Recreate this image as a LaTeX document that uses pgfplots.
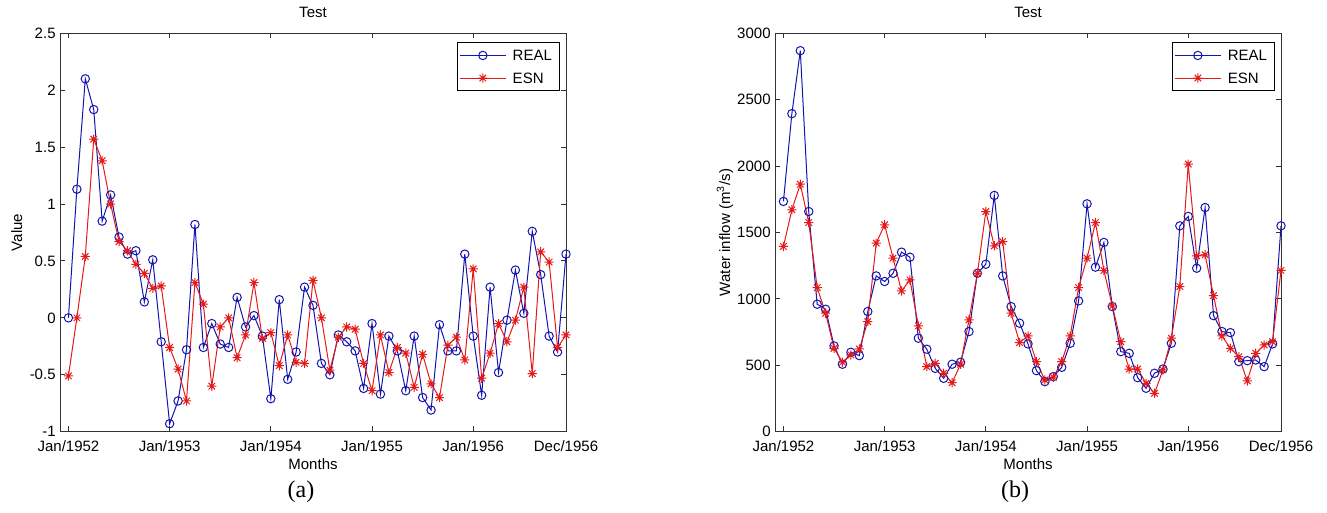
\documentclass[border=0pt]{standalone}
\usepackage{fontspec}
\setmainfont{Liberation Sans}
\newfontfamily\capfont{Liberation Serif}
\usepackage{pgfplots}
\usepackage{pgfplotstable}
\pgfplotsset{compat=1.18}

\definecolor{realblue}{RGB}{20,20,175}
\definecolor{esnred}{RGB}{230,25,25}

% eight-armed asterisk marker
\pgfdeclareplotmark{mstar}{%
  \pgfpathmoveto{\pgfqpoint{-\pgfplotmarksize}{0pt}}%
  \pgfpathlineto{\pgfqpoint{\pgfplotmarksize}{0pt}}%
  \pgfpathmoveto{\pgfqpoint{0pt}{-\pgfplotmarksize}}%
  \pgfpathlineto{\pgfqpoint{0pt}{\pgfplotmarksize}}%
  \pgfpathmoveto{\pgfqpoint{-0.707\pgfplotmarksize}{-0.707\pgfplotmarksize}}%
  \pgfpathlineto{\pgfqpoint{0.707\pgfplotmarksize}{0.707\pgfplotmarksize}}%
  \pgfpathmoveto{\pgfqpoint{-0.707\pgfplotmarksize}{0.707\pgfplotmarksize}}%
  \pgfpathlineto{\pgfqpoint{0.707\pgfplotmarksize}{-0.707\pgfplotmarksize}}%
  \pgfusepathqstroke}

% normalised series: month index, real, esn
\pgfplotstableread{
m real esn
0 0.00 -0.51
1 1.13 0.00
2 2.10 0.54
3 1.83 1.57
4 0.85 1.38
5 1.08 1.00
6 0.71 0.67
7 0.56 0.59
8 0.59 0.47
9 0.14 0.39
10 0.51 0.26
11 -0.21 0.28
12 -0.93 -0.26
13 -0.73 -0.45
14 -0.28 -0.73
15 0.82 0.31
16 -0.26 0.12
17 -0.05 -0.60
18 -0.23 -0.08
19 -0.26 0.00
20 0.18 -0.35
21 -0.08 -0.15
22 0.02 0.31
23 -0.16 -0.18
24 -0.71 -0.13
25 0.16 -0.42
26 -0.54 -0.15
27 -0.30 -0.39
28 0.27 -0.40
29 0.11 0.33
30 -0.40 0.00
31 -0.50 -0.46
32 -0.15 -0.17
33 -0.21 -0.08
34 -0.29 -0.10
35 -0.62 -0.40
36 -0.05 -0.64
37 -0.67 -0.15
38 -0.16 -0.48
39 -0.29 -0.26
40 -0.64 -0.31
41 -0.16 -0.61
42 -0.70 -0.32
43 -0.81 -0.58
44 -0.06 -0.70
45 -0.29 -0.24
46 -0.29 -0.17
47 0.56 -0.37
48 -0.16 0.43
49 -0.68 -0.53
50 0.27 -0.31
51 -0.48 -0.05
52 -0.02 -0.21
53 0.42 -0.02
54 0.04 0.27
55 0.76 -0.49
56 0.38 0.58
57 -0.16 0.49
58 -0.30 -0.26
59 0.56 -0.15
}\normtable

% water inflow in m^3/s: month index, real, esn
\pgfplotstableread{
m real esn
0 1734 1395
1 2395 1671
2 2869 1864
3 1658 1575
4 960 1085
5 922 892
6 646 628
7 508 523
8 598 578
9 573 623
10 905 829
11 1173 1420
12 1131 1558
13 1193 1307
14 1352 1060
15 1314 1143
16 704 797
17 621 490
18 477 515
19 402 440
20 508 369
21 523 508
22 754 842
23 1193 1193
24 1261 1658
25 1779 1400
26 1173 1432
27 942 892
28 817 671
29 661 721
30 460 528
31 377 389
32 415 410
33 485 528
34 666 721
35 985 1085
36 1716 1307
37 1239 1575
38 1425 1213
39 942 947
40 603 678
41 590 472
42 407 472
43 327 364
44 440 289
45 472 465
46 666 704
47 1550 1093
48 1621 2015
49 1231 1324
50 1688 1332
51 874 1025
52 754 721
53 746 628
54 528 565
55 535 382
56 540 590
57 490 653
58 661 678
59 1550 1214
}\flowtable

\newcommand\plotfont{\fontsize{7.5}{9}\selectfont}

\pgfplotsset{
  panel/.style={
    scale only axis,
    width=253pt, height=199.2pt,
    xmin=-1, xmax=59,
    xtick={0,12,24,36,48,59},
    xticklabels={Jan/1952,Jan/1953,Jan/1954,Jan/1955,Jan/1956,Dec/1956},
    tick align=inside,
    xtick pos=both, ytick pos=both,
    major tick length=2.6pt,
    axis line style={black!80, line width=0.5pt},
    every tick/.style={black!80, line width=0.5pt},
    tick label style={font=\plotfont},
    xticklabel style={inner sep=0pt, anchor=north, yshift=-4.2pt},
    yticklabel style={inner sep=0pt, anchor=east, xshift=-2pt},
    label style={font=\plotfont},
    every axis title/.style={font=\plotfont, at={(0.5,1)}, anchor=center, yshift=10.2pt},
    xlabel style={at={(axis description cs:0.5,0)}, anchor=center, yshift=-16.2pt},
    title={Test},
    xlabel={Months},
    legend cell align=left,
    legend style={
      at={(0.989,0.978)}, anchor=north east,
      draw=black, line width=0.5pt,
      font=\plotfont,
      inner sep=0.8pt,
      nodes={inner xsep=3.2pt, inner ysep=2.8pt, text height=5.4pt, text depth=0.3pt},
    },
    legend image code/.code={%
      \draw[mark repeat=2, mark phase=2] plot coordinates {(0pt,0pt) (11.5pt,0pt) (23pt,0pt)};},
  },
  realline/.style={color=realblue, line width=0.5pt, mark=o, mark size=2.1pt, mark options={solid}},
  esnline/.style={color=esnred, line width=0.5pt, mark=mstar, mark size=2.3pt, mark options={solid}},
}

\begin{document}
\begin{tikzpicture}
\useasboundingbox (0,0) rectangle (663.5pt,256.5pt);

\begin{axis}[panel,
  at={(30pt,40.65pt)}, anchor=south west,
  ymin=-1, ymax=2.5,
  ytick={-1,-0.5,0,0.5,1,1.5,2,2.5},
  yticklabels={-1,-0.5,0,0.5,1,1.5,2,2.5},
  ylabel={Value},
  ylabel style={at={(axis description cs:-0.0856,0.5)}, anchor=center},
]
\addplot[realline] table[x=m, y=real] {\normtable};
\addlegendentry{REAL}
\addplot[esnline] table[x=m, y=esn] {\normtable};
\addlegendentry{ESN}
\end{axis}

\begin{axis}[panel,
  at={(387.5pt,40.65pt)}, anchor=south west,
  ymin=0, ymax=3000,
  ytick={0,500,1000,1500,2000,2500,3000},
  yticklabels={0,500,1000,1500,2000,2500,3000},
  ylabel={Water inflow (m\textsuperscript{3}/s)},
  ylabel style={at={(axis description cs:-0.099,0.5)}, anchor=center},
]
\addplot[realline] table[x=m, y=real] {\flowtable};
\addlegendentry{REAL}
\addplot[esnline] table[x=m, y=esn] {\flowtable};
\addlegendentry{ESN}
\end{axis}

\node[font=\capfont\fontsize{12}{14}\selectfont] at (150.5pt,10.5pt) {(a)};
\node[font=\capfont\fontsize{12}{14}\selectfont] at (507.5pt,10.5pt) {(b)};
\end{tikzpicture}
\end{document}
